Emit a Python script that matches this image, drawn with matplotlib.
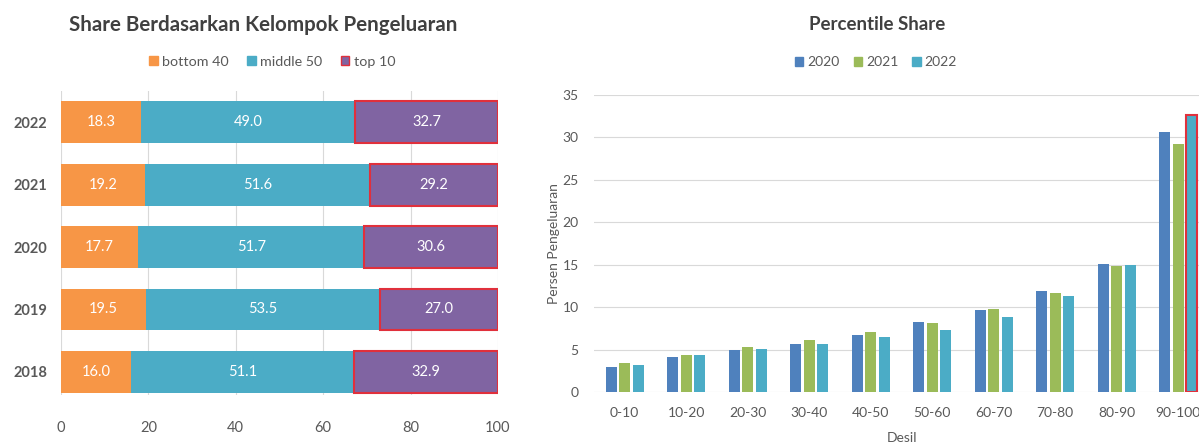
import numpy as np
import matplotlib.pyplot as plt
from matplotlib.patches import Patch

plt.rcParams['font.family'] = ['Lato', 'DejaVu Sans']

# left chart data
years = ['2018', '2019', '2020', '2021', '2022']
bottom40 = [16.0, 19.5, 17.7, 19.2, 18.3]
middle50 = [51.1, 53.5, 51.7, 51.6, 49.0]
top10 = [32.9, 27.0, 30.6, 29.2, 32.7]

# right chart data
deciles = ['0-10', '10-20', '20-30', '30-40', '40-50', '50-60', '60-70', '70-80', '80-90', '90-100']
share_2020 = [3.0, 4.1, 4.9, 5.7, 6.7, 8.2, 9.7, 11.9, 15.1, 30.6]
share_2021 = [3.4, 4.4, 5.3, 6.1, 7.1, 8.1, 9.8, 11.7, 14.9, 29.2]
share_2022 = [3.2, 4.4, 5.1, 5.7, 6.5, 7.3, 8.8, 11.3, 15.0, 32.7]

orange = '#F79646'
teal = '#4BACC6'
purple = '#8064A2'
blue = '#4F81BD'
green = '#9BBB59'
red = '#E0303C'
grid_c = '#D9D9D9'
text_c = '#595959'
title_c = '#404040'

fig = plt.figure(figsize=(11.99, 4.43), dpi=100)

# ---- left: stacked horizontal bars
ax1 = fig.add_axes([61/1199, 1-395/443, 437/1199, 304/443])
y = np.arange(len(years))
h = 0.67
b1 = np.array(bottom40)
b2 = np.array(middle50)
b3 = np.array(top10)
ax1.barh(y, b1, height=h, color=orange, zorder=2)
ax1.barh(y, b2, left=b1, height=h, color=teal, zorder=2)
ax1.barh(y, b3, left=b1 + b2, height=h, color=purple, edgecolor=red, linewidth=1.5, zorder=2)
for i in range(len(years)):
    ax1.text(b1[i] / 2, y[i], f'{b1[i]:.1f}', color='white', ha='center', va='center', fontsize=10.5)
    ax1.text(b1[i] + b2[i] / 2, y[i], f'{b2[i]:.1f}', color='white', ha='center', va='center', fontsize=10.5)
    ax1.text(b1[i] + b2[i] + b3[i] / 2, y[i], f'{b3[i]:.1f}', color='white', ha='center', va='center', fontsize=10.5)
ax1.set_xlim(0, 100)
ax1.set_ylim(-0.37, 4.5)
ax1.set_xticks(range(0, 101, 20))
ax1.set_yticks(y)
ax1.set_yticklabels(years, fontweight='bold')
ax1.tick_params(length=0, labelsize=10.5, colors=text_c, pad=10)
ax1.tick_params(axis='x', pad=19)
ax1.grid(axis='x', color=grid_c, linewidth=0.8, zorder=0)
for s in ax1.spines.values():
    s.set_visible(False)
fig.text(263/1199, 1-25/443, 'Share Berdasarkan Kelompok Pengeluaran', ha='center', va='center',
         fontsize=14.8, fontweight='bold', color=title_c)
fig.legend(handles=[Patch(color=orange, label='bottom 40'), Patch(color=teal, label='middle 50'),
                    Patch(facecolor=purple, edgecolor=red, label='top 10')],
           loc='center', bbox_to_anchor=(272/1199, 1-62/443), ncol=3, frameon=False,
           fontsize=10.3, handlelength=0.6, handleheight=0.6, handletextpad=0.3, columnspacing=1.3,
           labelcolor=text_c)

# ---- right: grouped vertical bars
ax2 = fig.add_axes([594/1199, 1-392/443, 615/1199, 297/443])
x = np.arange(len(deciles))
w = 0.18
step = 0.22
ax2.bar(x - step, share_2020, width=w, color=blue, zorder=2)
ax2.bar(x, share_2021, width=w, color=green, zorder=2)
bars22 = ax2.bar(x + step, share_2022, width=w, color=teal, zorder=2)
bars22[-1].set_edgecolor(red)
bars22[-1].set_linewidth(1.5)
ax2.set_xlim(-0.5, 9.5)
ax2.set_ylim(0, 35)
ax2.set_yticks(range(0, 36, 5))
ax2.set_xticks(x)
ax2.set_xticklabels(deciles)
ax2.tick_params(length=0, labelsize=10, colors=text_c)
ax2.tick_params(axis='y', pad=11)
ax2.tick_params(axis='x', pad=11)
ax2.grid(axis='y', color=grid_c, linewidth=0.8, zorder=0)
for s in ax2.spines.values():
    s.set_visible(False)
ax2.set_ylabel('Persen Pengeluaran', fontsize=10, color=text_c, labelpad=2)
ax2.set_xlabel('Desil', fontsize=10, color=text_c, labelpad=9)
fig.text(877/1199, 1-25/443, 'Percentile Share', ha='center', va='center',
         fontsize=13.5, fontweight='bold', color=title_c)
fig.legend(handles=[Patch(color=blue, label='2020'), Patch(color=green, label='2021'),
                    Patch(color=teal, label='2022')],
           loc='center', bbox_to_anchor=(876/1199, 1-62/443), ncol=3, frameon=False,
           fontsize=10, handlelength=0.6, handleheight=0.6, handletextpad=0.3, columnspacing=1.0,
           labelcolor=text_c)

fig.savefig('out.png', dpi=100)
